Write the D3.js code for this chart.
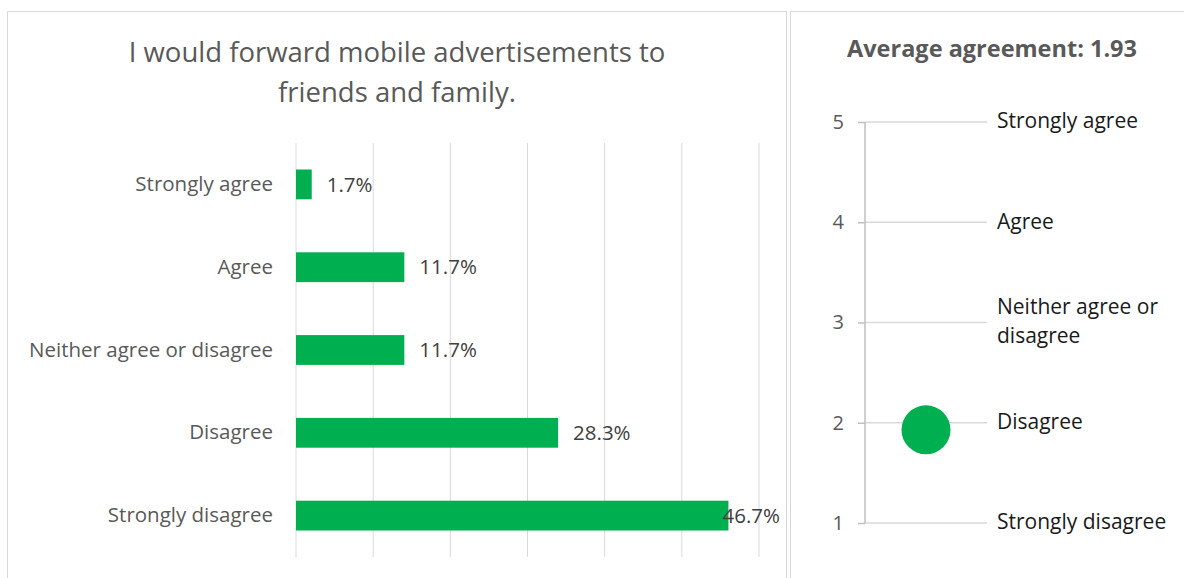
<!DOCTYPE html>
<meta charset="utf-8">
<style>
  body { margin: 0; background: #fff; }
  text { font-family: "Open Sans", sans-serif; }
</style>
<body>
  <div id="chart"></div>
  <script src="https://d3js.org/d3.v7.min.js"></script>
  <script>
    // left panel data
    var categories = ["Strongly agree", "Agree", "Neither agree or disagree", "Disagree", "Strongly disagree"];
    var shares = [0.017, 0.117, 0.117, 0.283, 0.467];
    var gridTicks = [0, 1 / 12, 2 / 12, 3 / 12, 4 / 12, 5 / 12, 6 / 12];

    // right panel data
    var scaleValues = [5, 4, 3, 2, 1];
    var scaleLabels = ["Strongly agree", "Agree", "Neither agree or disagree", "Disagree", "Strongly disagree"];
    var averageAgreement = 1.93;

    var svg = d3.select("#chart").append("svg")
      .attr("width", 1184)
      .attr("height", 578);

    // panel borders
    svg.append("rect")
      .attr("x", 7.5).attr("y", 11.5)
      .attr("width", 779).attr("height", 600)
      .style("fill", "none").style("stroke", "#d9d9d9");
    svg.append("rect")
      .attr("x", 790.5).attr("y", 11.5)
      .attr("width", 420).attr("height", 600)
      .style("fill", "none").style("stroke", "#d9d9d9");

    //********* Left: bar chart ****************
    var title = svg.append("text")
      .attr("x", 397)
      .attr("text-anchor", "middle")
      .style("font-size", "27.5px")
      .style("fill", "#595959");
    title.append("tspan").attr("x", 397).attr("y", 62).text("I would forward mobile advertisements to");
    title.append("tspan").attr("x", 397).attr("y", 102).text("friends and family.");

    var x = d3.scaleLinear()
      .domain([0, 0.5])
      .range([296, 759]);

    var y = d3.scaleBand()
      .domain(categories)
      .range([143, 557])
      .paddingInner(0.64)
      .paddingOuter(0.32);

    svg.append("g")
      .selectAll("line")
      .data(gridTicks)
      .enter().append("line")
      .attr("x1", function(d) { return x(d); })
      .attr("x2", function(d) { return x(d); })
      .attr("y1", 143)
      .attr("y2", 557)
      .style("stroke", "#d9d9d9")
      .style("stroke-width", 1);

    var yAxis = svg.append("g")
      .attr("transform", "translate(" + 273 + ",0)")
      .call(d3.axisLeft(y).tickSize(0).tickPadding(0));
    yAxis.select(".domain").remove();
    yAxis.selectAll("text")
      .style("font-family", "'Open Sans', sans-serif")
      .style("font-size", "20.5px")
      .style("fill", "#595959");

    svg.append("g")
      .selectAll("rect")
      .data(shares)
      .enter().append("rect")
      .attr("x", x(0))
      .attr("y", function(d, i) { return y(categories[i]); })
      .attr("width", function(d) { return x(d) - x(0); })
      .attr("height", y.bandwidth())
      .style("fill", "#00b050");

    svg.append("g")
      .selectAll("text")
      .data(shares)
      .enter().append("text")
      .attr("y", function(d, i) { return y(categories[i]) + y.bandwidth() / 2; })
      .attr("dy", "0.35em")
      .style("font-size", "20.5px")
      .style("fill", "#404040")
      .text(function(d) { return (d * 100).toFixed(1) + "%"; })
      .attr("x", function(d) {
        var w = this.getComputedTextLength();
        return Math.min(x(d) + 15, 780 - w);
      });

    //********* Right: average agreement ****************
    svg.append("text")
      .attr("x", 992)
      .attr("y", 57)
      .attr("text-anchor", "middle")
      .style("font-size", "23.5px")
      .style("font-weight", "bold")
      .style("fill", "#595959")
      .text("Average agreement: " + averageAgreement);

    var ys = d3.scaleLinear()
      .domain([1, 5])
      .range([523, 122]);

    svg.append("g")
      .selectAll("line")
      .data(scaleValues)
      .enter().append("line")
      .attr("x1", 865)
      .attr("x2", 987)
      .attr("y1", function(d) { return ys(d); })
      .attr("y2", function(d) { return ys(d); })
      .style("stroke", "#d9d9d9")
      .style("stroke-width", 1.5);

    var rAxis = svg.append("g")
      .attr("transform", "translate(865,0)")
      .call(d3.axisLeft(ys).tickValues(scaleValues).tickSize(7).tickPadding(14).tickFormat(d3.format("d")));
    rAxis.select(".domain").style("stroke", "#bfbfbf").style("stroke-width", 1.5)
      .attr("d", "M0," + ys(5) + "V" + ys(1));
    rAxis.selectAll(".tick line").style("stroke", "#bfbfbf").style("stroke-width", 1.5);
    rAxis.selectAll(".tick text")
      .style("font-family", "'Open Sans', sans-serif")
      .style("font-size", "20px")
      .style("fill", "#595959");

    var lbl = svg.append("g")
      .selectAll("text")
      .data(scaleValues)
      .enter().append("text")
      .attr("x", 997)
      .style("font-size", "21px")
      .style("fill", "#1a1a1a");

    lbl.each(function(d, i) {
      var t = d3.select(this);
      var words = scaleLabels[i];
      var lines = words === "Neither agree or disagree" ? ["Neither agree or", "disagree"] : [words];
      var y0 = ys(d) - (lines.length - 1) * 29 / 2;
      lines.forEach(function(l, j) {
        t.append("tspan").attr("x", 997).attr("y", y0 + j * 29).attr("dy", "0.3em").text(l);
      });
    });

    svg.append("circle")
      .attr("cx", 926)
      .attr("cy", ys(averageAgreement))
      .attr("r", 24.5)
      .style("fill", "#00b050");
  </script>
